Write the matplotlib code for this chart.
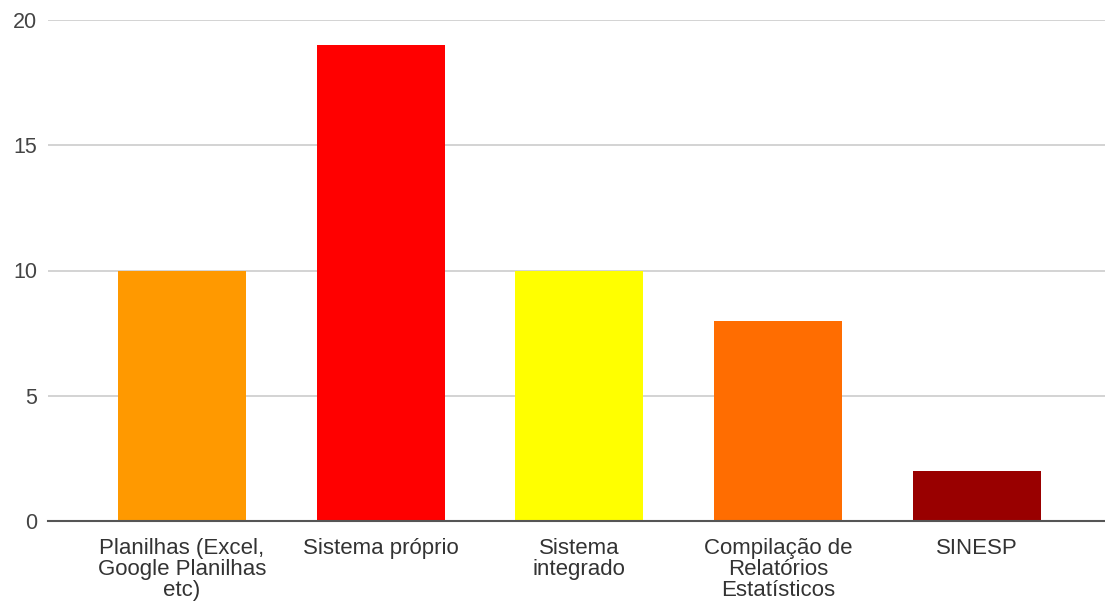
import matplotlib
matplotlib.use("Agg")
import matplotlib.pyplot as plt

categories = ["Planilhas (Excel,\nGoogle Planilhas\netc)", "Sistema próprio",
              "Sistema\nintegrado", "Compilação de\nRelatórios\nEstatísticos", "SINESP"]
values = [10, 19, 10, 8, 2]
colors = ["#FF9900", "#FF0000", "#FFFF00", "#FF6D01", "#990000"]
yticks = [0, 5, 10, 15, 20]

plt.rcParams['font.family'] = ['Liberation Sans', 'DejaVu Sans']

fig = plt.figure(figsize=(11.05, 6.03), dpi=100)
ax = fig.add_axes([48/1105, 1-521/603, 1-48/1105, (521-20)/603])

x = list(range(len(categories)))
ax.bar(x, values, width=0.644, color=colors, zorder=3)

ax.set_ylim(0, 20)
ax.set_xlim(-0.674, 4.645)
ax.set_yticks(yticks)
ax.set_yticklabels([str(t) for t in yticks], fontsize=15.5, color="#444444")
ax.set_xticks(x)
ax.set_xticklabels(categories, fontsize=16, color="#333333", linespacing=1.0)
ax.tick_params(axis='both', length=0)
ax.tick_params(axis='y', pad=8)
ax.tick_params(axis='x', pad=12)
ax.grid(axis='y', color="#CCCCCC", linewidth=1.2, zorder=0)
for s in ["top", "right", "left"]:
    ax.spines[s].set_visible(False)
ax.spines["bottom"].set_color("#555555")
ax.spines["bottom"].set_linewidth(1.5)
ax.spines["bottom"].set_zorder(4)

fig.savefig("out.png", dpi=100, facecolor="white")
